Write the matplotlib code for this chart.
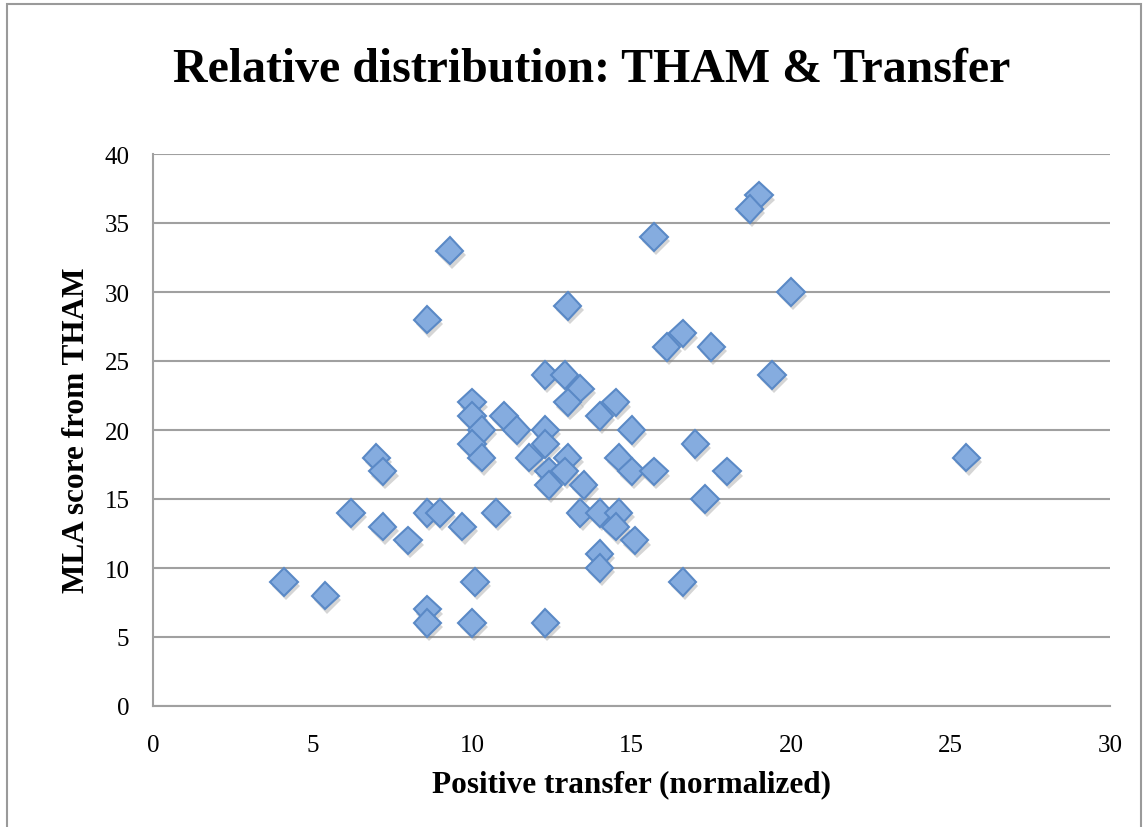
import matplotlib
matplotlib.use('Agg')
import matplotlib.pyplot as plt
import matplotlib.patheffects as pe
from matplotlib.patches import Rectangle

# dados
transfer = [4.1, 5.4, 6.2, 7.0, 7.2, 7.2, 8.0, 8.6, 8.6, 8.6, 8.6, 9.0, 9.3, 9.7,
            10.0, 10.0, 10.3, 10.0, 10.3, 11.0, 11.4, 11.8, 10.75, 10.1, 10.0, 12.3,
            13.0, 16.6, 16.1, 17.5, 12.3, 12.9, 13.4, 13.0, 14.5, 14.0, 15.0, 12.3,
            12.3, 13.0, 12.4, 12.9, 12.4, 13.5, 14.6, 15.0, 15.7, 17.0, 18.0, 17.3,
            13.4, 14.0, 14.6, 14.5, 15.1, 14.0, 14.0, 16.6, 19.0, 18.7, 15.7, 20.0,
            19.4, 25.5]
mla = [9, 8, 14, 18, 17, 13, 12, 28, 14, 7, 6, 14, 33, 13,
       22, 21, 20, 19, 18, 21, 20, 18, 14, 9, 6, 6,
       29, 27, 26, 26, 24, 24, 23, 22, 22, 21, 20, 20,
       19, 18, 17, 17, 16, 16, 18, 17, 17, 19, 17, 15,
       14, 14, 14, 13, 12, 11, 10, 9, 37, 36, 34, 30,
       24, 18]

xticks = [0, 5, 10, 15, 20, 25, 30]
yticks = [0, 5, 10, 15, 20, 25, 30, 35, 40]

plt.rcParams['font.family'] = ['Liberation Serif', 'DejaVu Serif']

fig = plt.figure(figsize=(11.48, 8.28), dpi=100)
ax = fig.add_axes([153/1148, 1 - 707/828, (1110 - 153)/1148, (707 - 155)/828])

# moldura externa do gráfico
fig.patches.append(Rectangle((7/1148, -0.01), (1141 - 7)/1148, 1 - 5/828 + 0.01,
                             transform=fig.transFigure, fill=False,
                             edgecolor='#9a9a9a', linewidth=1.5))

ax.set_xlim(0, 30)
ax.set_ylim(0, 40)
ax.set_xticks(xticks)
ax.set_yticks(yticks)
ax.yaxis.grid(True, color='#a0a0a0', linewidth=1.5)
ax.set_axisbelow(True)
for s in ['top', 'right']:
    ax.spines[s].set_visible(False)
for s in ['left', 'bottom']:
    ax.spines[s].set_color('#a0a0a0')
    ax.spines[s].set_linewidth(1.5)
ax.tick_params(axis='both', length=0, labelsize=18)
ax.tick_params(axis='x', pad=20)
ax.tick_params(axis='y', pad=17)

ax.plot(transfer, mla, linestyle='none', marker='D', markersize=14,
        markerfacecolor='#85acdf', markeredgecolor='#5a89c6', markeredgewidth=1.5,
        clip_on=False,
        path_effects=[pe.SimplePatchShadow(offset=(1.5, -3), shadow_rgbFace='#888888', alpha=0.35),
                      pe.Normal()])

fig.text(592/1148, 1 - 70/828, 'Relative distribution: THAM & Transfer',
         ha='center', va='center', fontsize=34.5, fontweight='bold')
fig.text(631/1148, 1 - 785/828, 'Positive transfer (normalized)',
         ha='center', va='center', fontsize=22.5, fontweight='bold')
fig.text(77/1148, 1 - 430/828, 'MLA score from THAM', rotation=90,
         ha='center', va='center', fontsize=22.5, fontweight='bold')

fig.savefig('out.png', dpi=100)
